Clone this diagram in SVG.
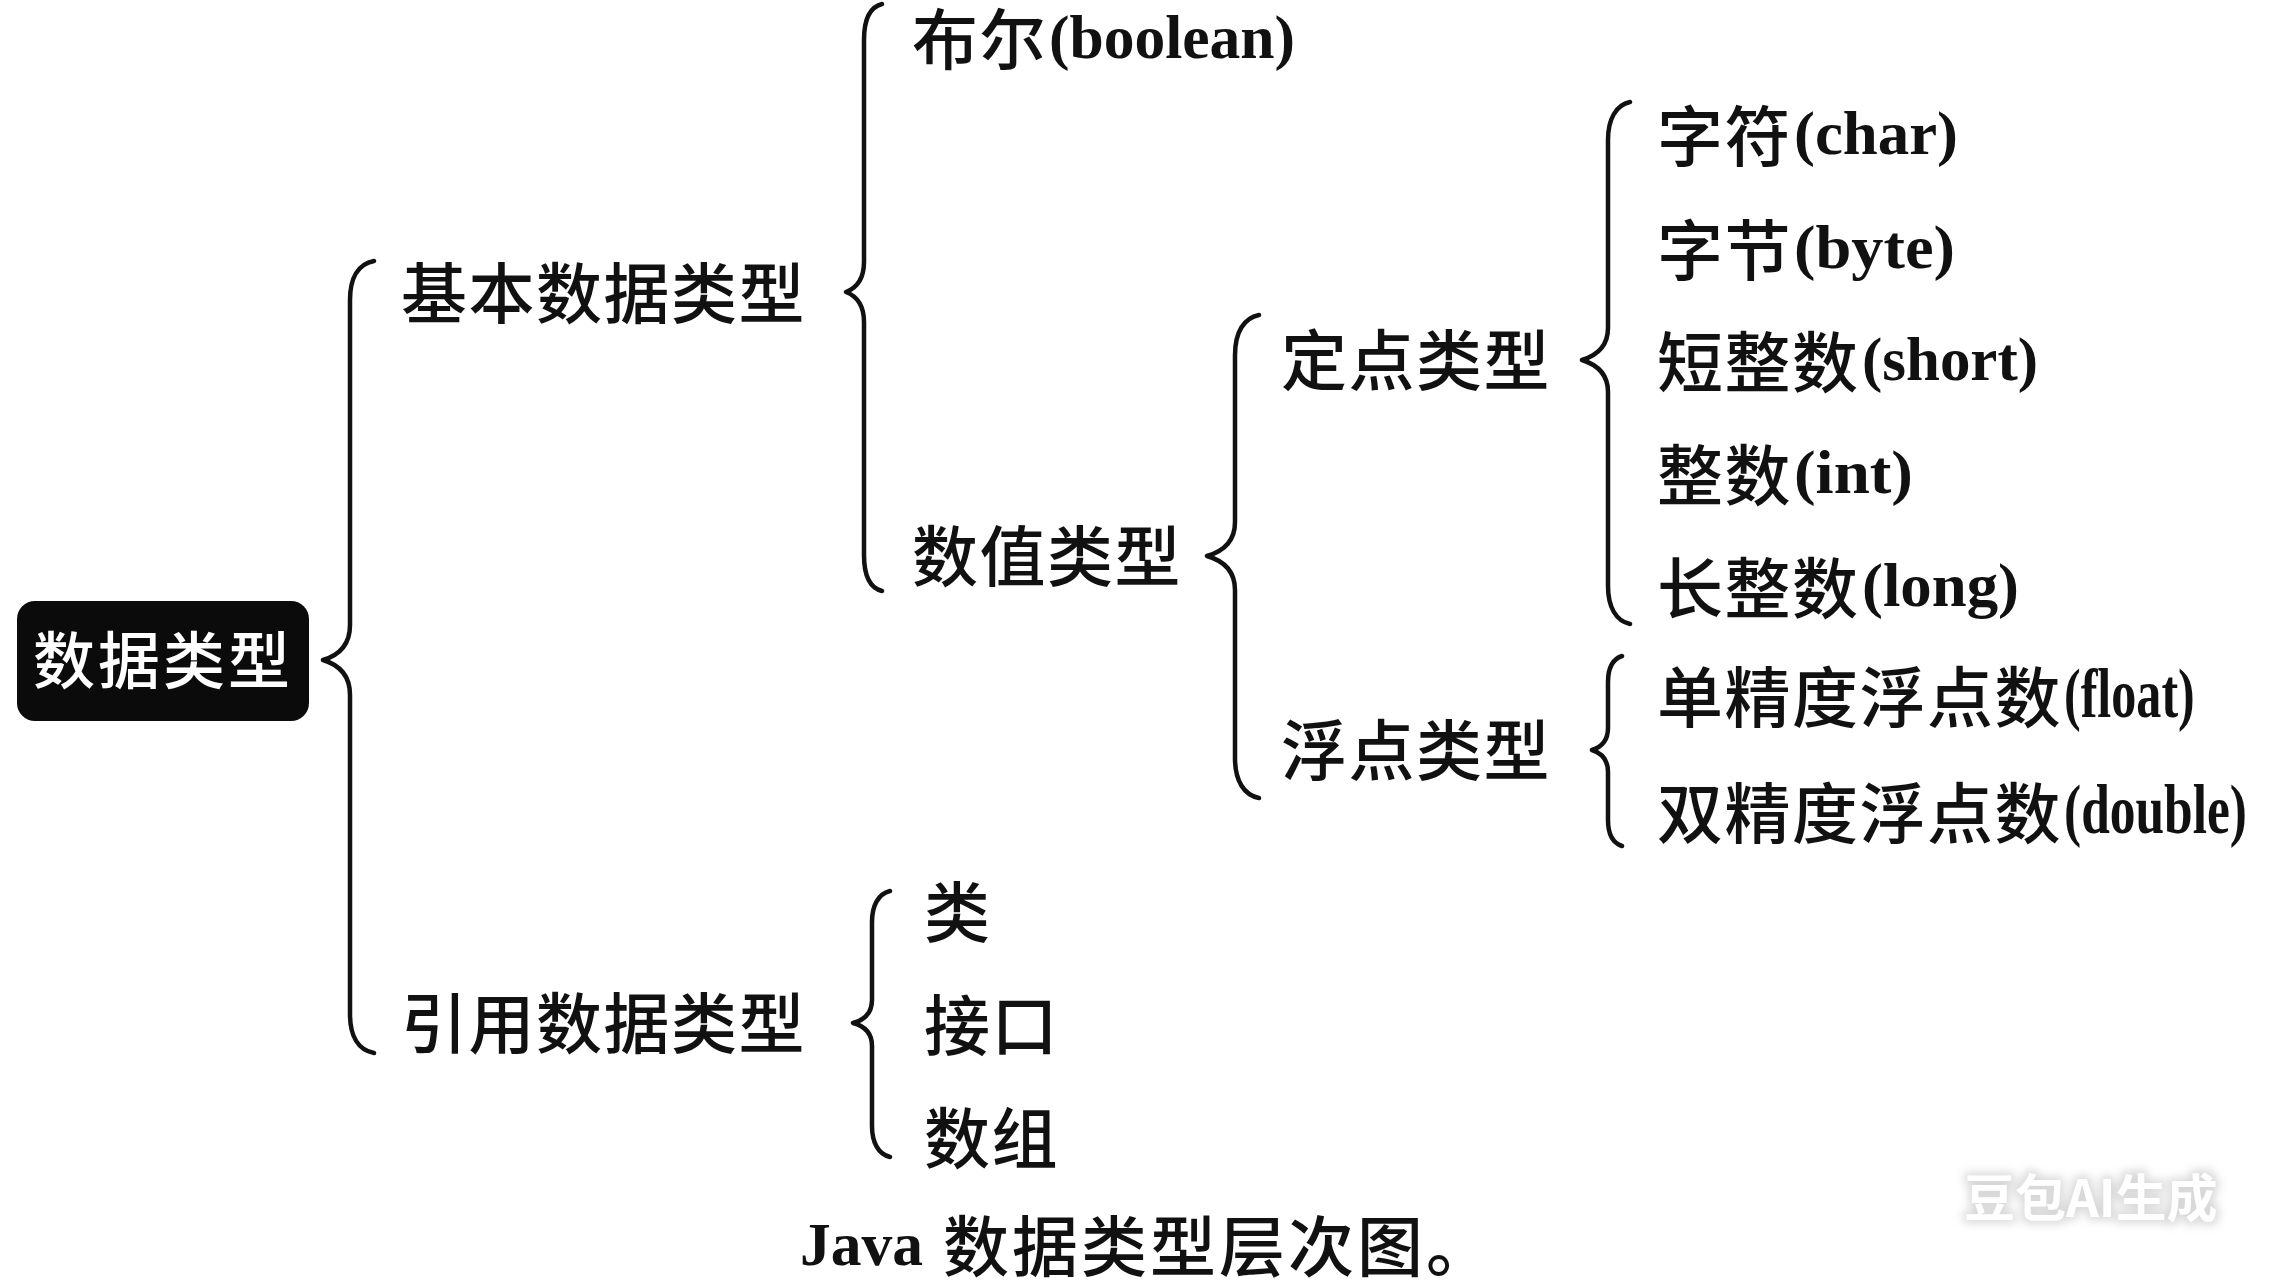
<svg xmlns="http://www.w3.org/2000/svg" width="2276" height="1280" viewBox="0 0 2276 1280">
<defs>
<style>
.cj{font-family:"Noto Sans CJK SC","Noto Sans",sans-serif;font-weight:500;font-size:66px;fill:#111;letter-spacing:1.5px}
.lt{font-family:"Liberation Serif","Times New Roman",serif;font-weight:bold;font-size:62px;fill:#111}
.br{fill:none;stroke:#111;stroke-width:4.5;stroke-linecap:round;stroke-linejoin:round}
.wm{font-family:"Noto Sans CJK SC",sans-serif;font-weight:700;font-size:51px;fill:#fff}
</style>
<filter id="glow" x="-20%" y="-50%" width="140%" height="200%">
<feMorphology in="SourceAlpha" operator="dilate" radius="3" result="d"/>
<feGaussianBlur in="d" stdDeviation="5" result="b"/>
<feFlood flood-color="#d8d8d8"/>
<feComposite in2="b" operator="in" result="s"/>
<feMerge><feMergeNode in="s"/><feMergeNode in="SourceGraphic"/></feMerge>
</filter>
</defs>
<rect width="2276" height="1280" fill="#fff"/>

<g id="connectors">
<path class="br" d="M374,261 C358,264 350,278 350,300 L350,625 Q350,652 323,660 Q350,668 350,695 L350,1014 C350,1036 358,1050 374,1053"/>
<path class="br" d="M882,4 C870,7 864,20 864,40 L864,262 Q864,285 846,292 Q864,299 864,322 L864,555 C864,575 870,588 882,591"/>
<path class="br" d="M1259,315 C1244,318 1235,332 1235,355 L1235,522 Q1235,548 1207,556 Q1235,564 1235,590 L1235,758 C1235,781 1244,795 1259,798"/>
<path class="br" d="M1630,102 C1616,105 1608,119 1608,140 L1608,328 Q1608,352 1582,360 Q1608,368 1608,392 L1608,586 C1608,607 1616,621 1630,624"/>
<path class="br" d="M1622,656 C1613,659 1608,668 1608,682 L1608,728 Q1608,745 1592,750 Q1608,755 1608,772 L1608,820 C1608,834 1613,843 1622,846"/>
<path class="br" d="M890,891 C878,894 872,906 872,922 L872,1000 Q872,1018 853,1023 Q872,1028 872,1046 L872,1126 C872,1142 878,1154 890,1157"/>
</g>

<g id="root">
<rect x="17" y="601" width="292" height="120" rx="18" fill="#0b0b0b"/>
<text x="163" y="684" text-anchor="middle" style="font-family:'Noto Sans CJK SC',sans-serif;font-weight:500;font-size:62px;fill:#fff;letter-spacing:3px">数据类型</text>
</g>

<g id="basic"><text class="cj" x="401" y="318">基本数据类型</text></g>
<g id="reference"><text class="cj" x="401" y="1048">引用数据类型</text></g>

<g id="boolean"><text class="cj" x="912" y="64">布尔</text><text class="lt" x="1049" y="58" textLength="246" lengthAdjust="spacingAndGlyphs">(boolean)</text></g>
<g id="numeric"><text class="cj" x="912" y="581">数值类型</text></g>

<g id="fixed"><text class="cj" x="1281" y="385">定点类型</text></g>
<g id="float"><text class="cj" x="1281" y="775">浮点类型</text></g>

<g id="char"><text class="cj" x="1657" y="161">字符</text><text class="lt" x="1794" y="154" textLength="164" lengthAdjust="spacingAndGlyphs">(char)</text></g>
<g id="byte"><text class="cj" x="1657" y="275">字节</text><text class="lt" x="1794" y="268" textLength="161" lengthAdjust="spacingAndGlyphs">(byte)</text></g>
<g id="short"><text class="cj" x="1657" y="387">短整数</text><text class="lt" x="1862" y="380" textLength="176" lengthAdjust="spacingAndGlyphs">(short)</text></g>
<g id="int"><text class="cj" x="1657" y="500">整数</text><text class="lt" x="1794" y="493" textLength="119" lengthAdjust="spacingAndGlyphs">(int)</text></g>
<g id="long"><text class="cj" x="1657" y="613">长整数</text><text class="lt" x="1862" y="606" textLength="157" lengthAdjust="spacingAndGlyphs">(long)</text></g>

<g id="single"><text class="cj" x="1657" y="722">单精度浮点数</text><text class="lt" transform="matrix(0.716 0 0 1 2064 717)" x="0" y="0" style="font-size:70px">(float)</text></g>
<g id="double"><text class="cj" x="1657" y="838">双精度浮点数</text><text class="lt" transform="matrix(0.735 0 0 1 2064 833)" x="0" y="0" style="font-size:70px">(double)</text></g>

<g id="class"><text class="cj" x="924" y="937">类</text></g>
<g id="interface"><text class="cj" x="924" y="1050">接口</text></g>
<g id="array"><text class="cj" x="924" y="1163">数组</text></g>

<g id="caption"><text class="lt" x="800" y="1265" textLength="123" lengthAdjust="spacingAndGlyphs">Java</text><text class="cj" x="943" y="1271" style="letter-spacing:3px">数据类型层次图。</text></g>

<g id="watermark"><text class="wm" x="1964" y="1217" filter="url(#glow)">豆包AI生成</text></g>
</svg>
